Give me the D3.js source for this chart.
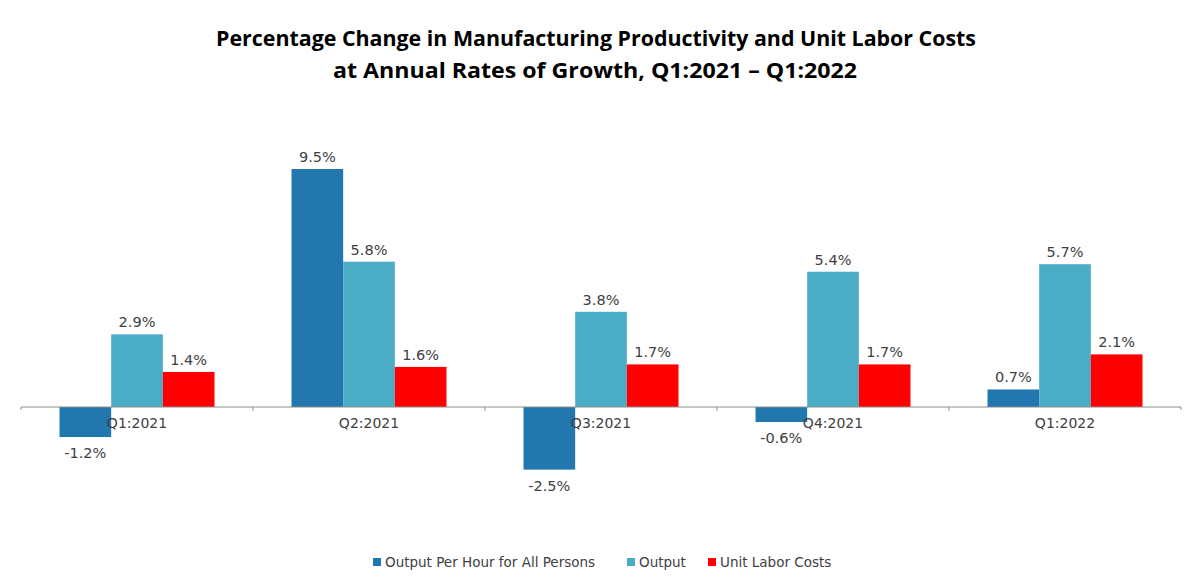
<!DOCTYPE html>
<html>
<head>
<meta charset="utf-8">
<script src="https://cdn.jsdelivr.net/npm/d3@7"></script>
<style>
  body { margin: 0; background: #fff; }
  svg { display: block; }
</style>
</head>
<body>
<div class="wrapper"></div>
<script>
// data
const quarters = ["Q1:2021", "Q2:2021", "Q3:2021", "Q4:2021", "Q1:2022"];
const seriesNames = ["Output Per Hour for All Persons", "Output", "Unit Labor Costs"];
const productivity = [-1.2, 9.5, -2.5, -0.6, 0.7];
const output = [2.9, 5.8, 3.8, 5.4, 5.7];
const unitLaborCosts = [1.4, 1.6, 1.7, 1.7, 2.1];
const colors = ["#2277ae", "#4bacc6", "#ff0000"];

const seriesValues = [productivity, output, unitLaborCosts];
const rows = quarters.map((q, i) => ({
  quarter: q,
  values: seriesNames.map((s, j) => ({ series: s, value: seriesValues[j][i], idx: j }))
}));

const width = 1200, height = 584;

const svg = d3.select(".wrapper").append("svg")
    .attr("width", width)
    .attr("height", height);

// title
const title = svg.append("g")
    .attr("font-family", "'Open Sans', 'Liberation Sans', sans-serif")
    .attr("font-weight", "bold")
    .attr("font-size", 22)
    .attr("fill", "#000")
    .attr("text-anchor", "middle");
title.append("text")
    .attr("x", 596).attr("y", 46)
    .attr("textLength", 760).attr("lengthAdjust", "spacingAndGlyphs")
    .text("Percentage Change in Manufacturing Productivity and Unit Labor Costs");
title.append("text")
    .attr("x", 595).attr("y", 78)
    .attr("textLength", 524).attr("lengthAdjust", "spacingAndGlyphs")
    .text("at Annual Rates of Growth, Q1:2021 \u2013 Q1:2022");

// scales
var x0 = d3.scaleBand().domain(quarters).range([21, 1181]).padding(0);
var x1 = d3.scaleBand().domain(seriesNames)
    .range([x0.bandwidth() * 0.166, x0.bandwidth() * 0.834]);
var y = d3.scaleLinear().domain([-3, 10]).range([407 + 3 * 25.05, 407 - 10 * 25.05]);

// bars
const groups = svg.selectAll(".group")
    .data(rows)
    .enter().append("g")
    .attr("class", "group")
    .attr("transform", d => "translate(" + x0(d.quarter) + ",0)");

groups.selectAll("rect")
    .data(d => d.values)
    .enter().append("rect")
    .attr("x", d => x1(d.series))
    .attr("width", x1.bandwidth())
    .attr("y", d => y(Math.max(0, d.value)))
    .attr("height", d => Math.abs(y(d.value) - y(0)))
    .attr("fill", d => colors[d.idx]);

// value labels
groups.selectAll(".val")
    .data(d => d.values)
    .enter().append("text")
    .attr("class", "val")
    .attr("x", d => x1(d.series) + x1.bandwidth() / 2)
    .attr("y", d => d.value >= 0 ? y(d.value) - 7 : y(d.value) + 21)
    .attr("text-anchor", "middle")
    .attr("font-family", "'DejaVu Sans', sans-serif")
    .attr("font-size", 14.5)
    .attr("fill", "#404040")
    .text(d => d.value.toFixed(1) + "%");

// x axis
const xAxis = d3.axisBottom(x0).tickSize(0).tickPadding(11);
const axisG = svg.append("g")
    .attr("transform", "translate(0," + y(0) + ")")
    .call(xAxis);
axisG.select(".domain").attr("stroke", "#8c8c8c").attr("d", "M21,3V0H1181V3");
axisG.selectAll(".tick text")
    .attr("font-family", "'DejaVu Sans', sans-serif")
    .attr("font-size", 14)
    .attr("fill", "#404040");
// boundary ticks between categories
axisG.selectAll(".sep")
    .data(quarters.slice(1))
    .enter().append("line")
    .attr("class", "sep")
    .attr("x1", d => x0(d)).attr("x2", d => x0(d))
    .attr("y1", 0).attr("y2", 4)
    .attr("stroke", "#8c8c8c");

// legend
const legendX = [373, 627, 708];
const legend = svg.selectAll(".legend")
    .data(seriesNames)
    .enter().append("g")
    .attr("class", "legend")
    .attr("transform", (d, i) => "translate(" + legendX[i] + ",558)");
legend.append("rect")
    .attr("width", 8).attr("height", 8)
    .attr("fill", (d, i) => colors[i]);
legend.append("text")
    .attr("x", 12).attr("y", 9)
    .attr("font-family", "'DejaVu Sans', sans-serif")
    .attr("font-size", 13.5)
    .attr("fill", "#404040")
    .text(d => d);
</script>
</body>
</html>
